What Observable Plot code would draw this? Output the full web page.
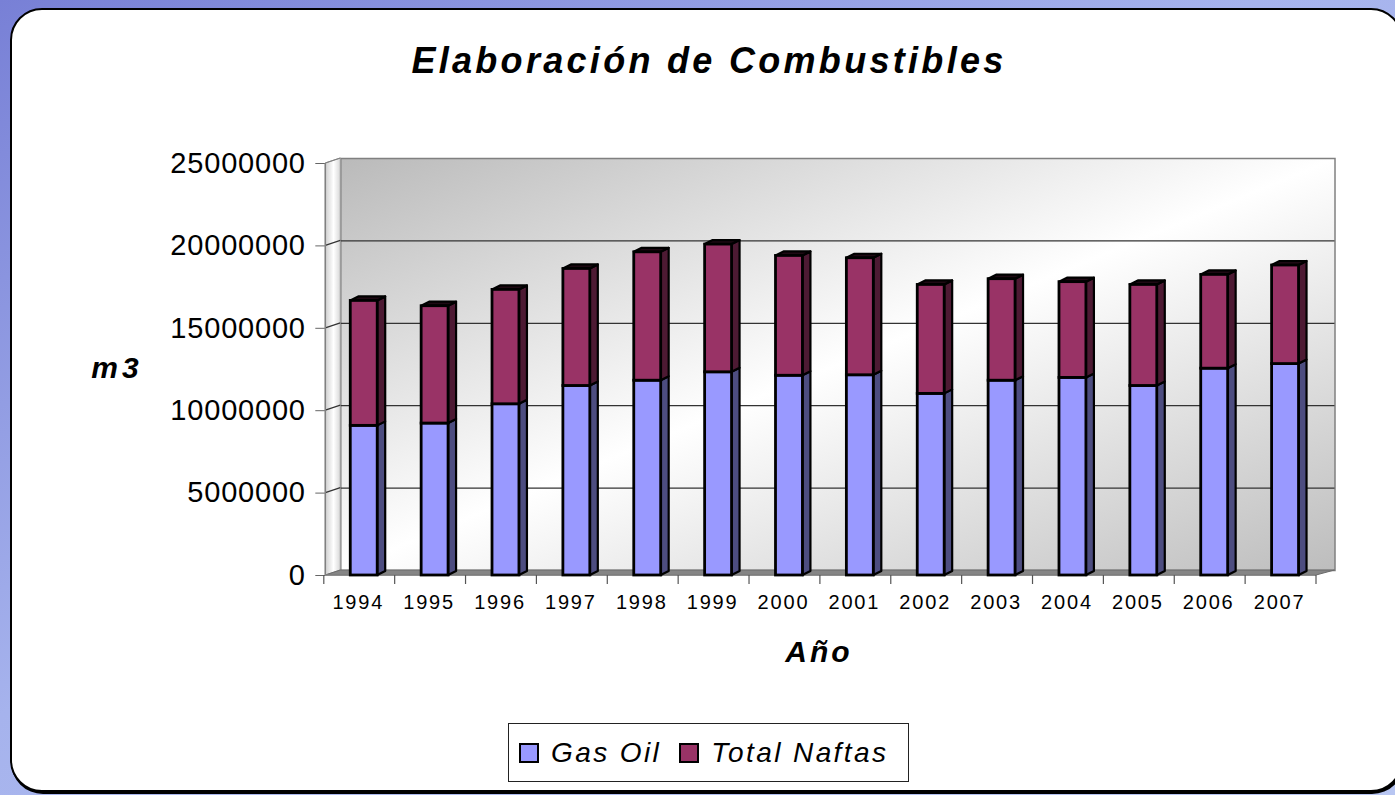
<!DOCTYPE html>
<html>
<head>
<meta charset="utf-8">
<script src="https://cdn.jsdelivr.net/npm/d3@7"></script>
<script src="https://cdn.jsdelivr.net/npm/@observablehq/plot@0.6"></script>
<style>
  html, body { margin: 0; padding: 0; }
  body {
    width: 1395px; height: 795px; overflow: hidden; position: relative;
    background: linear-gradient(to bottom right, #7880d6 0%, #a6b3ed 45%, #b8c6f2 100%);
    font-family: "Liberation Sans", Arial, sans-serif;
  }
  #panel {
    position: absolute; left: 10px; top: 8px; width: 1393px; height: 784px;
    box-sizing: border-box; background: #fff; border: 2px solid #000;
    border-radius: 32px; box-shadow: 1px 2px 0 #000;
  }
  .lbl { position: absolute; white-space: nowrap; color: #000; line-height: 1; }
  #title { left: 709px; top: 43px; transform: translateX(-50%); font-size: 36px; font-weight: bold; font-style: italic; letter-spacing: 3.3px; }
  #ylab { left: 117px; top: 353px; transform: translateX(-50%); font-size: 30px; font-weight: bold; font-style: italic; letter-spacing: 4px; }
  #xlab { left: 819px; top: 637px; transform: translateX(-50%); font-size: 30px; font-weight: bold; font-style: italic; letter-spacing: 3px; }
  #chart { position: absolute; left: 0; top: 100px; }
  #legend {
    position: absolute; left: 508px; top: 723px; width: 401px; height: 59px; box-sizing: border-box;
    border: 1px solid #222; background: #fff; display: flex; align-items: center; padding-left: 10px;
    white-space: nowrap;
  }
  .item { display: flex; align-items: center; margin-right: 18px; white-space: nowrap; flex: none; }
  .sw { width: 16px; height: 16px; border: 2px solid #000; margin-right: 12px; flex: none; }
  .item span { font-size: 28px; font-style: italic; letter-spacing: 2.4px; line-height: 1; white-space: nowrap; }
  #chart g[aria-label="x-axis tick label"] text { letter-spacing: 1.8px; }
  #chart g[aria-label="y-axis tick label"] text { letter-spacing: 0.8px; }
  #chart g[aria-label="y-axis tick"] { stroke: #666; }
</style>
</head>
<body>
<div id="panel"></div>
<div id="title" class="lbl">Elaboración de Combustibles</div>
<div id="ylab" class="lbl">m3</div>
<div id="xlab" class="lbl">Año</div>
<div id="chart"></div>
<div id="legend"></div>
<script>
// ---- Data (m3) ----
const years = ["1994","1995","1996","1997","1998","1999","2000","2001","2002","2003","2004","2005","2006","2007"];
const gasOil = [9080000, 9220000, 10390000, 11500000, 11820000, 12330000, 12120000, 12150000, 11020000, 11820000, 11990000, 11500000, 12550000, 12830000];
const totalNaftas = [7580000, 7120000, 6940000, 7100000, 7790000, 7750000, 7270000, 7100000, 6610000, 6160000, 5810000, 6130000, 5690000, 5980000];
const seriesNames = ["Gas Oil", "Total Naftas"];
const seriesColors = ["#9999ff", "#993366"];
const sideColors = ["#4d4d80", "#4d1a33"];
const yTicks = [0, 5000000, 10000000, 15000000, 20000000, 25000000];

const rows = [];
years.forEach((y, i) => {
  rows.push({year: y, series: seriesNames[0], value: gasOil[i]});
  rows.push({year: y, series: seriesNames[1], value: totalNaftas[i]});
});

const W = 1395, H = 540;
const BDX = 15, BDY = 5;   // depth offset of back wall
const chart = Plot.plot({
  width: W, height: H,
  marginLeft: 328.3, marginRight: W - 1320.5, marginTop: 63, marginBottom: 65,
  style: {background: "transparent", fontFamily: "'Liberation Sans', Arial, sans-serif", overflow: "visible", color: "#000"},
  x: {type: "band", domain: years, paddingInner: 0.62, paddingOuter: 0.31, round: false, label: null},
  y: {domain: [0, 25000000], label: null},
  color: {domain: seriesNames, range: seriesColors},
  marks: [
    Plot.frame({fill: "url(#wallGrad)", stroke: "#808080", strokeWidth: 1.5, insetLeft: 12, insetRight: -14, dy: -BDY}),
    Plot.ruleY(yTicks.slice(1, -1), {stroke: "#333", strokeWidth: 1.3, insetLeft: 12, insetRight: -14, dy: -BDY}),
    Plot.axisY({ticks: yTicks, tickFormat: d3.format("d"), tickSize: 10, tickPadding: 10, dx: -3, fontSize: 29, label: null}),
    Plot.axisX({tickSize: 0, tickPadding: 19, dx: -6, fontSize: 20, label: null}),
    Plot.barY(rows, Plot.stackY({x: "year", y: "value", fill: "series", stroke: "#000", strokeWidth: 2.8}))
  ]
});
document.getElementById("chart").appendChild(chart);

// ---- 3D decorations built from the plot's scales ----
const svg = d3.select(chart);
const xs = chart.scale("x"), ys = chart.scale("y");
const xr = xs.range, step = xs.step;
const ax = xr[0] - 3;                 // front axis x
const y0 = ys.apply(0), yTop = ys.apply(25000000);
const rightFront = xr[1] - 4.5, rightBack = xr[1] + 14;

const defs = svg.insert("defs", ":first-child");
const wg = defs.append("linearGradient").attr("id", "wallGrad").attr("x1", 0).attr("y1", 0).attr("x2", 1).attr("y2", 1);
wg.append("stop").attr("offset", "0%").attr("stop-color", "#bababa");
wg.append("stop").attr("offset", "50%").attr("stop-color", "#ffffff");
wg.append("stop").attr("offset", "100%").attr("stop-color", "#bdbdbd");
const sg = defs.append("linearGradient").attr("id", "sideGrad").attr("x1", 0).attr("y1", 0).attr("x2", 1).attr("y2", 0);
sg.append("stop").attr("offset", "0%").attr("stop-color", "#cfcfcf");
sg.append("stop").attr("offset", "55%").attr("stop-color", "#ffffff");
sg.append("stop").attr("offset", "100%").attr("stop-color", "#d8d8d8");

const barG = svg.select('g[aria-label="bar"]');
const deco = svg.insert("g", 'g[aria-label="bar"]');
// left side wall
deco.append("polygon")
  .attr("points", [[ax, yTop], [ax + BDX, yTop - BDY], [ax + BDX, y0 - BDY], [ax, y0]].join(" "))
  .attr("fill", "url(#sideGrad)").attr("stroke", "#9a9a9a").attr("stroke-width", 1);
yTicks.slice(1).forEach(t => {
  const yy = ys.apply(t);
  deco.append("line").attr("x1", ax).attr("y1", yy).attr("x2", ax + BDX).attr("y2", yy - BDY)
    .attr("stroke", t === 25000000 ? "#808080" : "#333").attr("stroke-width", 1.3);
});
// floor
deco.append("polygon")
  .attr("points", [[ax, y0], [ax + BDX, y0 - BDY], [rightBack, y0 - BDY], [rightFront, y0]].join(" "))
  .attr("fill", "#858585").attr("stroke", "#6a6a6a").attr("stroke-width", 1);
// front axis lines
deco.append("line").attr("x1", ax).attr("x2", ax).attr("y1", yTop).attr("y2", y0).attr("stroke", "#808080").attr("stroke-width", 1.5);
deco.append("line").attr("x1", ax).attr("x2", rightFront).attr("y1", y0).attr("y2", y0).attr("stroke", "#808080").attr("stroke-width", 1.5);
for (let i = 0; i <= years.length; i++) {
  const xx = xr[0] + i * step - 4.5;
  deco.append("line").attr("x1", xx).attr("x2", xx).attr("y1", y0).attr("y2", y0 + 9).attr("stroke", "#555").attr("stroke-width", 1.2);
}

// bar side and top faces
const D = 8, DY = 4;
const faces = svg.insert("g", 'g[aria-label="bar"]');
const rects = barG.selectAll("rect").nodes().map(r => ({
  x: +r.getAttribute("x"), y: +r.getAttribute("y"),
  w: +r.getAttribute("width"), h: +r.getAttribute("height"),
  fill: r.getAttribute("fill")
}));
const topByX = new Map();
rects.forEach(r => {
  const k = Math.round(r.x);
  if (!topByX.has(k) || r.y < topByX.get(k).y) topByX.set(k, r);
});
rects.forEach(r => {
  const si = seriesColors.indexOf(r.fill);
  faces.append("polygon")
    .attr("points", [[r.x + r.w, r.y], [r.x + r.w + D, r.y - DY], [r.x + r.w + D, r.y + r.h - DY], [r.x + r.w, r.y + r.h]].join(" "))
    .attr("fill", sideColors[si >= 0 ? si : 0]).attr("stroke", "#000").attr("stroke-width", 2.2).attr("stroke-linejoin", "round");
});
topByX.forEach(r => {
  faces.append("polygon")
    .attr("points", [[r.x, r.y], [r.x + D, r.y - DY], [r.x + r.w + D, r.y - DY], [r.x + r.w, r.y]].join(" "))
    .attr("fill", "#1e0913").attr("stroke", "#000").attr("stroke-width", 2.2).attr("stroke-linejoin", "round");
});

// legend
const legend = d3.select("#legend");
seriesNames.forEach((s, i) => {
  const it = legend.append("div").attr("class", "item");
  it.append("div").attr("class", "sw").style("background", seriesColors[i]);
  it.append("span").text(s);
});
</script>
</body>
</html>
